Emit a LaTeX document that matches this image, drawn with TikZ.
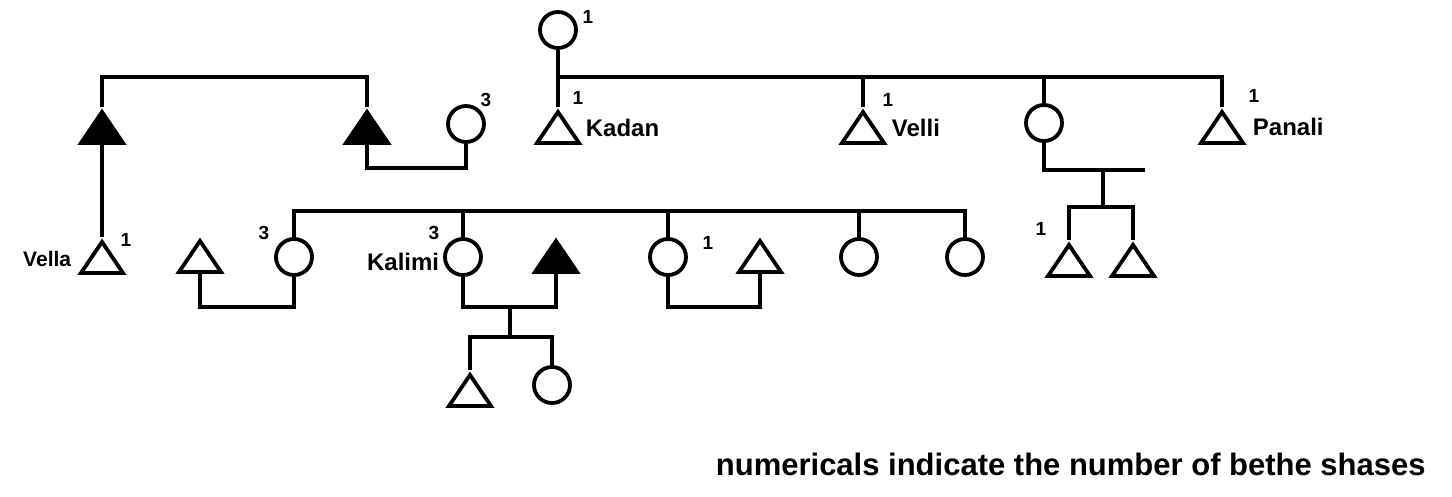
\documentclass[tikz,border=0pt]{standalone}
\usepackage{fontspec}
\setmainfont{Liberation Sans}
\usetikzlibrary{shapes.geometric,positioning}

\begin{document}
\begin{tikzpicture}[x=1pt,y=-1pt,line width=3.8pt,
  male/.style={draw,isosceles triangle,isosceles triangle stretches,shape border rotate=90,
    minimum width=42pt,minimum height=31pt,inner sep=0pt,anchor=apex},
  dead/.style={male,fill=black},
  female/.style={draw,circle,minimum size=36pt,inner sep=0pt},
  num/.style={font=\fontsize{19}{19}\selectfont\bfseries,inner sep=0pt},
  who/.style={font=\fontsize{24}{24}\selectfont\bfseries,inner sep=0pt}]
  \useasboundingbox (0,0) rectangle (1452,497);
  % marriage and sibling bar levels
  \coordinate (barA) at (0,77);
  \coordinate (barC) at (0,211);
  \coordinate (mrg) at (0,307);
  % first generation
  \node[dead] (fA) at (102,107) {};
  \node[dead] (fB) at (367,107) {};
  \node[female] (wB) at (466,124) {};
  \node[female] (gm) at (558,30) {};
  \node[male] (kadan) at (558,107) {};
  \node[male] (velli) at (863,107) {};
  \node[female] (sis) at (1044,123) {};
  \node[male] (panali) at (1222,107) {};
  \node[male] (sisS1) at (1069,240) {};
  \node[male] (sisS2) at (1133,240) {};
  \node[male] (vella) at (102,237) {};
  % second row
  \node[male] (hus1) at (200,236) {};
  \node[female] (dau1) at (294,257) {};
  \node[female] (kalimi) at (463,257) {};
  \node[dead] (kalH) at (556,236) {};
  \node[female] (dau3) at (668,257) {};
  \node[male] (hus3) at (760,236) {};
  \node[female] (dau4) at (859,257) {};
  \node[female] (dau5) at (965,257) {};
  \node[male] (kalS) at (470,370) {};
  \node[female] (kalD) at (552,385) {};
  % connectors
  \draw (fA.apex) |- (barA -| fB.apex) -- (fB.apex);
  \draw (fA.lower side) -- (vella.apex);
  \draw (fB.lower side) |- (wB.south |- 0,168) -- (wB.south);
  \draw (gm.south) -- (gm.south |- barA) -| (panali.apex);
  \draw (kadan.apex) -- (kadan.apex |- barA);
  \draw (velli.apex) -- (velli.apex |- barA);
  \draw (sis.north) -- (sis.north |- barA);
  \coordinate (mS) at (1145,170);
  \coordinate (dS) at (1103,170);
  \coordinate (cS) at (1103,207);
  \draw (sis.south) |- (mS);
  \draw (dS) -- (cS);
  \draw (sisS1.apex) |- (cS) -| (sisS2.apex);
  \draw (dau1.north) |- (barC -| dau5.north) -- (dau5.north);
  \foreach \n in {kalimi,dau3,dau4}
    \draw (\n.north) -- (\n.north |- barC);
  \foreach \w/\h in {dau1/hus1,kalimi/kalH,dau3/hus3}
    \draw (\w.south) |- (mrg -| \h.lower side) -- (\h.lower side);
  \coordinate (dK) at (510,307);
  \coordinate (cK) at (510,337);
  \draw (dK) -- (cK);
  \draw (kalS.apex) |- (cK) -| (kalD.north);
  % labels
  \node[num] (nGm) at (588,17) {1};
  \node[num] (nWB) at (486,100) {3};
  \node[num] (nKadan) at (578,98) {1};
  \node[who,anchor=west] (lKadan) at (584,128) {Kadan};
  \node[num] (nVelli) at (888,100) {1};
  \node[who,anchor=west] (lVelli) at (890,128) {Velli};
  \node[num] (nPanali) at (1254,96) {1};
  \node[who,anchor=west] (lPanali) at (1251,127) {Panali};
  \node[num] (nSis) at (1041,229) {1};
  \node[num] (nVella) at (126,240) {1};
  \node[who,anchor=east,font=\fontsize{21}{21}\selectfont\bfseries] (lVella) at (73,259) {Vella};
  \node[num] (nDau1) at (264,233) {3};
  \node[num] (nKalimi) at (434,233) {3};
  \node[who,anchor=east] (lKalimi) at (441,262) {Kalimi};
  \node[num] (nDau3) at (708,243) {1};
  \node[who,anchor=west,font=\fontsize{31}{31}\selectfont\bfseries] (note) at (714,464)
    {numericals indicate the number of bethe shases};
\end{tikzpicture}
\end{document}
